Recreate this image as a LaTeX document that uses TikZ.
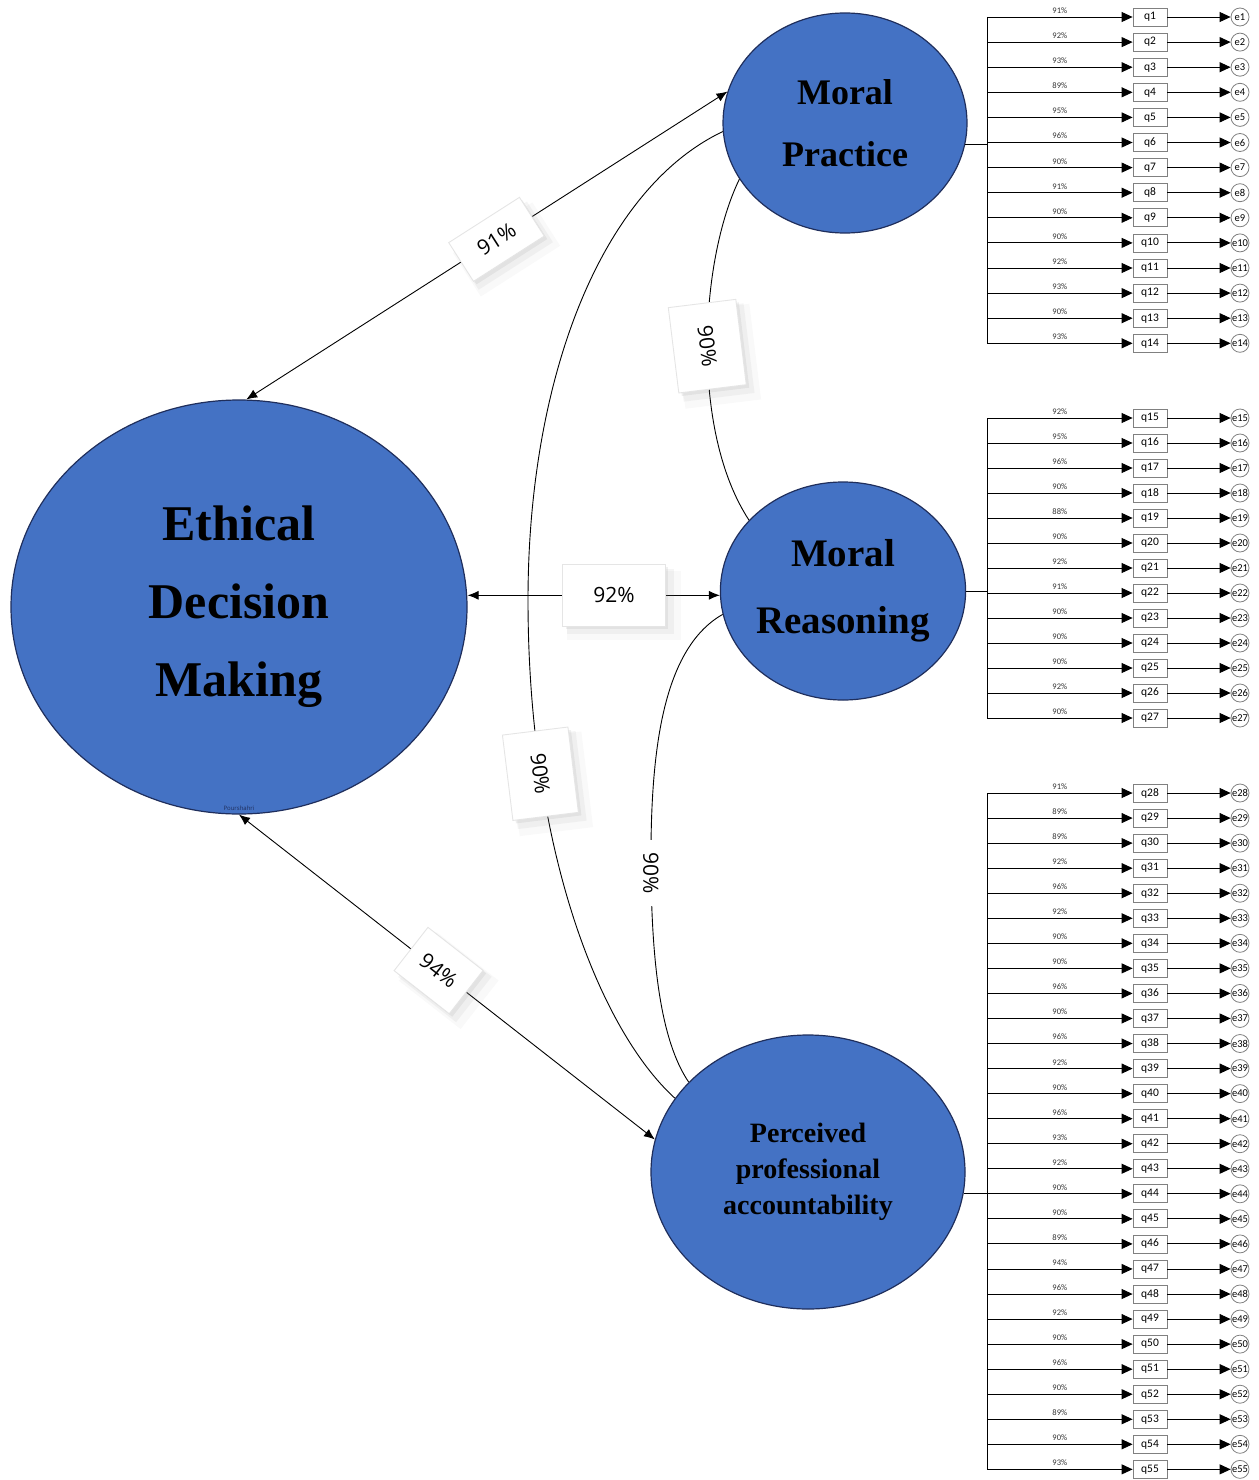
\documentclass[tikz,border=0pt]{standalone}
\usepackage{fontspec}
\setmainfont{Liberation Serif}
\newfontfamily\lblfont{Open Sans}
\newfontfamily\itmfont{Carlito}
\usetikzlibrary{arrows.meta,shapes.geometric,shadows}
\definecolor{latblue}{HTML}{4472C4}
\definecolor{latedge}{HTML}{1F2E5C}
\newcommand{\arw}{-{Triangle[length=11pt,width=10pt]}}
\newcommand{\darw}{{Latex[length=11pt,width=9pt]}-{Latex[length=11pt,width=9pt]}}

\begin{document}
\begin{tikzpicture}[x=1pt,y=-1pt,line width=.9pt,
  latent/.style={ellipse,draw=latedge,line width=1.2pt,fill=latblue,inner sep=0pt,align=center},
  item/.style={draw=gray,line width=.8pt,minimum width=34pt,minimum height=18pt,inner sep=0pt,font=\itmfont\fontsize{11.5}{12}\selectfont},
  err/.style={circle,draw=gray,line width=.8pt,minimum size=18pt,inner sep=0pt,font=\itmfont\fontsize{10.5}{11}\selectfont},
  load/.style={font=\itmfont\fontsize{8.5}{9}\selectfont,text=black!80,inner sep=1pt},
  wbox/.style={draw=black!10,fill=white,
    drop shadow={opacity=.05,shadow xshift=9pt,shadow yshift=-9pt,shadow scale=1.12},
    drop shadow={opacity=.08,shadow xshift=6pt,shadow yshift=-6pt,shadow scale=1.05},
    drop shadow={opacity=.12,shadow xshift=3pt,shadow yshift=-3pt},
    font=\lblfont\fontsize{21}{22}\selectfont,inner sep=0pt}]
\useasboundingbox (0,0) rectangle (1258,1480);

%latent variables
\node[latent,minimum width=456pt,minimum height=414pt,font=\fontsize{50}{78}\selectfont\bfseries] (ed) at (239,607) {Ethical\\Decision\\Making};
\node[latent,minimum width=244pt,minimum height=220pt,font=\fontsize{36}{62}\selectfont\bfseries] (mp) at (845,123) {Moral\\Practice};
\node[latent,minimum width=244pt,minimum height=218pt,font=\fontsize{39}{67}\selectfont\bfseries] (mr) at (843,591) {Moral\\Reasoning};
\node[latent,minimum width=314pt,minimum height=274pt,font=\fontsize{28}{36}\selectfont\bfseries] (pa) at (808,1172) {Perceived\\professional\\accountability};
\node[font=\lblfont\fontsize{6}{7}\selectfont,text=latedge,inner sep=0pt] (sig) at (239,808) {Pourshahri};

%paths to ethical decision making
\draw[\darw] (ed.88) -- (mp.165) node[wbox,pos=.52,sloped,minimum width=84pt,minimum height=46pt] (w1) {91\%};
\draw[\darw] (ed.east |- mr.182) -- (mr.182) node[wbox,pos=.58,minimum width=102pt,minimum height=62pt] (w2) {92\%};
\draw[\darw] (ed.south) -- (pa.168) node[wbox,pos=.48,sloped,minimum width=70pt,minimum height=55pt] (w3) {94\%};

%correlations
\draw (mp.208) .. controls (700,260) and (690,430) .. (mr.143)
  node[wbox,pos=.5,rotate=-83,minimum width=86pt,minimum height=68pt] (w4) {90\%};
\draw (mp.184) .. controls (600,190) and (528,380) .. (528,600)
  .. controls (528,850) and (600,1030) .. (pa.151)
  node[wbox,pos=.25,rotate=-83,minimum width=86pt,minimum height=66pt] (w5) {90\%};
\draw (mr.191) .. controls (660,650) and (650,760) .. (651,873)
  node[fill=white,rotate=-90,font=\lblfont\fontsize{21}{22}\selectfont,inner xsep=12pt,inner ysep=2pt] (w6) {90\%}
  .. controls (652,960) and (660,1040) .. (pa.143);

\coordinate (bar) at (987,0);

%moral practice items
\foreach \i/\p [evaluate=\i as \y using {17+25.1*(\i-1)}] in {1/91,2/92,3/93,4/89,5/95,6/96,7/90,8/91,9/90,10/90,11/92,12/93,13/90,14/93} {
  \node[item] (q\i) at (1150,\y) {q\i};
  \node[err] (e\i) at (1240,\y) {e\i};
  \draw[\arw] (q\i.west -| bar) -- (q\i.west) node[load,midway,above=2pt] {\p\%};
  \draw[\arw] (q\i.east) -- (e\i.west);
}
\draw (q1.west -| bar) -- (q14.west -| bar);
\draw (mp.-10) -- (mp.-10 -| bar);

%moral reasoning items
\foreach \i/\p [evaluate=\i as \y using {418+25*(\i-15)}] in {15/92,16/95,17/96,18/90,19/88,20/90,21/92,22/91,23/90,24/90,25/90,26/92,27/90} {
  \node[item] (q\i) at (1150,\y) {q\i};
  \node[err] (e\i) at (1240,\y) {e\i};
  \draw[\arw] (q\i.west -| bar) -- (q\i.west) node[load,midway,above=2pt] {\p\%};
  \draw[\arw] (q\i.east) -- (e\i.west);
}
\draw (q15.west -| bar) -- (q27.west -| bar);
\draw (mr.east) -- (mr.east -| bar);

%accountability items
\foreach \i/\p [evaluate=\i as \y using {793+25.05*(\i-28)}] in {28/91,29/89,30/89,31/92,32/96,33/92,34/90,35/90,36/96,37/90,38/96,39/92,40/90,41/96,42/93,43/92,44/90,45/90,46/89,47/94,48/96,49/92,50/90,51/96,52/90,53/89,54/90,55/93} {
  \node[item] (q\i) at (1150,\y) {q\i};
  \node[err] (e\i) at (1240,\y) {e\i};
  \draw[\arw] (q\i.west -| bar) -- (q\i.west) node[load,midway,above=2pt] {\p\%};
  \draw[\arw] (q\i.east) -- (e\i.west);
}
\draw (q28.west -| bar) -- (q55.west -| bar);
\draw (pa.-8) -- (pa.-8 -| bar);
\end{tikzpicture}
\end{document}
